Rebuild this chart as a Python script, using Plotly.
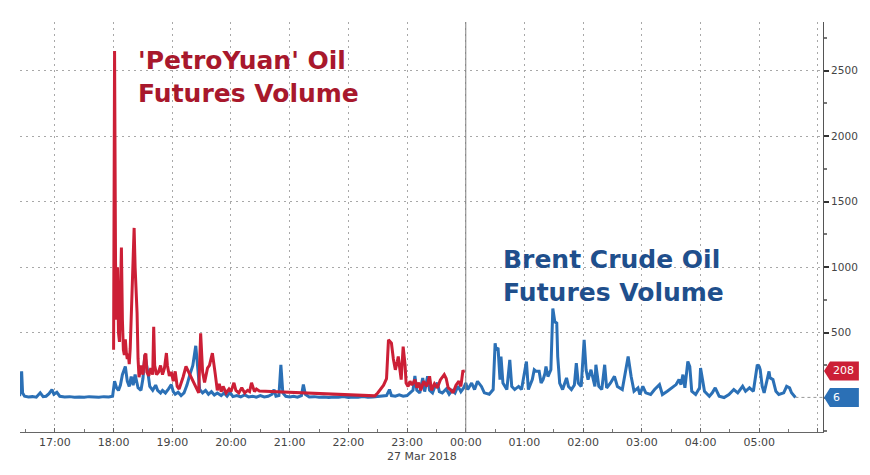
import plotly.graph_objects as go

# ---------------- data ----------------
red_t = ["18:00","18:01","18:02","18:03","18:04","18:05","18:06","18:07","18:08","18:09",
         "18:10","18:11","18:12","18:13","18:14","18:15","18:16","18:17","18:18","18:19",
         "18:20","18:21","18:22","18:23","18:24","18:25","18:26","18:28","18:30","18:32",
         "18:33","18:34","18:36","18:38","18:40","18:41","18:42","18:44","18:46","18:48",
         "18:50","18:52","18:54","18:55","18:57","18:59","19:01","19:03","19:05","19:07",
         "19:09","19:11","19:14","19:27","19:29","19:31","19:33","19:36","19:38","19:41",
         "19:44","19:46","19:48","19:50","19:52","19:55","19:58","20:00","20:03","20:05",
         "20:08","20:11","20:14","20:17","20:19","20:21","20:24","20:26","20:29","22:27",
         "22:30","22:33","22:36","22:39","22:41","22:43","22:44","22:46","22:48","22:50",
         "22:51","22:53","22:54","22:56","22:58","22:59","23:01","23:03","23:05","23:08",
         "23:10","23:12","23:14","23:17","23:20","23:23","23:25","23:28","23:31","23:34",
         "23:38","23:40","23:42","23:45","23:47","23:50","23:53","23:55","23:57","23:59"]
red_v = [370, 2650, 1030, 600, 1000, 500, 430, 700, 1150, 600,
         370, 330, 450, 350, 300, 340, 260, 380, 600, 900,
         1050, 1300, 1000, 850, 650, 300, 160, 250, 180, 330,
         340, 200, 170, 230, 180, 545, 250, 180, 200, 250,
         180, 230, 345, 250, 170, 200, 130, 205, 90, 70,
         110, 160, 242, 41, 495, 200, 120, 230, 250, 344,
         180, 60, 110, 50, 90, 40, 70, 50, 118, 60,
         40, 80, 40, 60, 50, 118, 50, 70, 55, 18,
         40, 66, 100, 150, 445, 430, 420, 300, 217, 280,
         318, 200, 142, 394, 250, 116, 90, 130, 100, 142,
         80, 120, 60, 130, 90, 167, 60, 110, 80, 140,
         180, 150, 80, 60, 41, 100, 130, 90, 205, 208]

blue_t = ["16:24","16:26","16:27","16:29","16:33","16:37","16:41","16:45","16:48","16:51",
          "16:54","16:57","16:59","17:02","17:05","17:10","17:15","17:20","17:25","17:30",
          "17:35","17:40","17:45","17:50","17:55","17:59","18:01","18:03","18:05","18:07",
          "18:09","18:12","18:14","18:16","18:18","18:20","18:22","18:25","18:28","18:30",
          "18:32","18:35","18:37","18:40","18:43","18:45","18:48","18:50","18:53","18:56",
          "18:59","19:01","19:03","19:06","19:09","19:12","19:15","19:18","19:21","19:24",
          "19:26","19:28","19:31","19:34","19:37","19:40","19:43","19:46","19:50","19:53",
          "19:56","19:59","20:02","20:06","20:10","20:14","20:18","20:22","20:26","20:30",
          "20:34","20:38","20:42","20:44","20:46","20:49","20:51","20:53","20:56","21:00",
          "21:04","21:08","21:12","21:14","21:16","21:20","21:25","21:30","21:35","21:40",
          "21:45","21:50","21:55","22:00","22:05","22:10","22:15","22:20","22:25","22:30",
          "22:35","22:39","22:42","22:44","22:48","22:52","22:56","23:00","23:03","23:06",
          "23:08","23:10","23:13","23:16","23:18","23:21","23:23","23:26","23:28","23:31",
          "23:33","23:36","23:40","23:43","23:46","23:49","23:52","23:55","23:58",
          "00:00","00:02","00:06","00:09","00:12","00:16","00:19","00:24","00:28","00:30",
          "00:31","00:33","00:35","00:36","00:38","00:42","00:45","00:47","00:50","00:54",
          "00:57","01:02","01:04","01:08","01:10","01:12","01:15","01:17","01:19","01:21",
          "01:22","01:24","01:27","01:29","01:31","01:33","01:34","01:36","01:39","01:43",
          "01:45","01:48","01:51","01:53","01:55","01:58","02:01","02:03","02:05","02:08",
          "02:12","02:13","02:16","02:19","02:22","02:24","02:28","02:32","02:35","02:40",
          "02:44","02:46","02:49","02:52","02:56","02:58","03:01","03:04","03:09","03:13",
          "03:18","03:21","03:26","03:31","03:35","03:38","03:40","03:42","03:44","03:47",
          "03:49","03:51","03:55","03:59","04:00","04:02","04:04","04:09","04:12","04:15",
          "04:19","04:24","04:29","04:34","04:38","04:43","04:46","04:50","04:54","04:58",
          "05:00","05:01","05:03","05:05","05:10","05:11","05:14","05:17","05:20","05:25",
          "05:28","05:31","05:33","05:37"]
blue_v = [15, 205, 40, 15, 10, 12, 8, 41, 12, 15,
          35, 66, 30, 45, 15, 10, 12, 8, 10, 8,
          12, 10, 8, 12, 10, 15, 130, 80, 60, 100,
          180, 242, 130, 90, 165, 100, 180, 80, 60, 150,
          330, 200, 90, 60, 100, 60, 40, 60, 40, 70,
          104, 50, 30, 45, 20, 40, 100, 180, 250, 400,
          200, 66, 40, 60, 30, 50, 25, 40, 20, 40,
          15, 45, 12, 20, 10, 25, 10, 15, 8, 20,
          10, 15, 30, 66, 15, 20, 255, 40, 15, 10,
          15, 8, 20, 104, 30, 10, 12, 8, 10, 6,
          10, 8, 12, 6, 10, 8, 12, 8, 10, 12,
          15, 20, 66, 20, 15, 25, 15, 20, 40, 60,
          170, 60, 40, 154, 50, 167, 60, 40, 80, 118,
          50, 40, 70, 30, 60, 40, 92, 50, 80,
          116, 66, 116, 66, 129, 90, 41, 30, 66, 420,
          369, 384, 142, 318, 116, 66, 293, 90, 66, 90,
          66, 280, 66, 142, 217, 205, 205, 116, 142, 190,
          242, 165, 217, 685, 583, 573, 318, 116, 66, 155,
          90, 66, 100, 268, 116, 90, 445, 217, 142, 217,
          90, 255, 90, 66, 255, 78, 116, 167, 90, 66,
          217, 318, 167, 53, 79, 28, 91, 41, 28, 66,
          104, 28, 53, 79, 104, 142, 104, 180, 79, 280,
          242, 53, 28, 79, 230, 142, 53, 15, 41, 79,
          15, 5, 28, 66, 41, 91, 53, 79, 53, 255,
          242, 217, 91, 41, 205, 155, 142, 53, 28, 41,
          91, 79, 41, 6]

hour_ticks = ["17:00","18:00","19:00","20:00","21:00","22:00","23:00",
              "00:00","01:00","02:00","03:00","04:00","05:00","06:00"]
hour_labels = ["17:00","18:00","19:00","20:00","21:00","22:00","23:00",
               "00:00","01:00","02:00","03:00","04:00","05:00",""]

red_name = "'PetroYuan' Oil<br>Futures Volume"
blue_name = "Brent Crude Oil<br>Futures Volume"
date_label = "27 Mar 2018"
red_last, blue_last = 208, 6


def to_dt(hm, sec="00"):
    h = int(hm[:2])
    day = "2018-03-26" if h >= 12 else "2018-03-27"
    return f"{day} {hm}:{sec}"


RED = "#cc1f36"
BLUE = "#2b70b6"
RED_TXT = "#a8182c"
BLUE_TXT = "#1f4f8c"
Y_RANGE = [-258, 2872]
X_RANGE = [to_dt("16:24", "20"), to_dt("06:05", "10")]
GRID_DASH = "2px,4px"

fig = go.Figure()
fig.add_trace(go.Scatter(x=[to_dt(t) for t in blue_t], y=blue_v, mode="lines",
                         line=dict(color=BLUE, width=3), name="Brent", showlegend=False))
fig.add_trace(go.Scatter(x=[to_dt(t) for t in red_t], y=red_v, mode="lines",
                         line=dict(color=RED, width=3), name="PetroYuan", showlegend=False))


def ypaper(v):
    return (v - Y_RANGE[0]) / (Y_RANGE[1] - Y_RANGE[0])


PW = 806.0   # plot width in px
PH = 410.0   # plot height in px
shapes = []
# solid vertical line at midnight
shapes.append(dict(type="line", xref="x", yref="paper", x0=to_dt("00:00"), x1=to_dt("00:00"),
                   y0=0, y1=1, line=dict(color="#808080", width=1)))
# dotted last-value guide for blue
shapes.append(dict(type="line", xref="x", yref="y", x0=to_dt(blue_t[-1]), x1=X_RANGE[1],
                   y0=blue_last, y1=blue_last, line=dict(color="#999999", width=1, dash="dot")))

annotations = []
for val, col in [(red_last, RED), (blue_last, BLUE)]:
    yc = ypaper(val)
    hh = 9.5 / PH
    x_tip = 1 + 1 / PW
    x_n = 1 + 7 / PW
    x_r = 1 + 36 / PW
    path = (f"M {x_tip},{yc} L {x_n},{yc + hh} L {x_r},{yc + hh} "
            f"L {x_r},{yc - hh} L {x_n},{yc - hh} Z")
    shapes.append(dict(type="path", xref="paper", yref="paper", path=path,
                       fillcolor=col, line=dict(width=0)))
    annotations.append(dict(xref="paper", yref="paper", x=1 + 8 / PW, y=yc,
                            xanchor="left", yanchor="middle", showarrow=False,
                            text=str(val), font=dict(color="white", size=11,
                                                     family="DejaVu Sans")))

annotations.append(dict(xref="paper", yref="paper", x=(136 - 20) / PW, y=(432 - 44) / PH,
                        xanchor="left", yanchor="top", align="left", showarrow=False,
                        text=f"<b>{red_name}</b>",
                        font=dict(color=RED_TXT, size=25, family="DejaVu Sans")))
annotations.append(dict(xref="paper", yref="paper", x=(503 - 20) / PW, y=(432 - 243) / PH,
                        xanchor="left", yanchor="top", align="left", showarrow=False,
                        text=f"<b>{blue_name}</b>",
                        font=dict(color=BLUE_TXT, size=25, family="DejaVu Sans")))
annotations.append(dict(xref="paper", yref="paper", x=(424 - 20) / PW, y=-(456 - 432) / PH,
                        xanchor="center", yanchor="middle", showarrow=False,
                        text=date_label,
                        font=dict(color="#444444", size=11, family="DejaVu Sans")))

fig.update_layout(
    width=870, height=475,
    margin=dict(l=20, r=44, t=22, b=43),
    paper_bgcolor="white", plot_bgcolor="white",
    font=dict(family="DejaVu Sans", size=11, color="#444444"),
    shapes=shapes, annotations=annotations,
    showlegend=False,
)
fig.update_xaxes(
    type="date", range=X_RANGE,
    tickmode="array", tickvals=[to_dt(t) for t in hour_ticks], ticktext=hour_labels,
    showgrid=True, gridcolor="#a8a8a8", griddash=GRID_DASH, gridwidth=1,
    showline=True, linecolor="#666666", linewidth=1,
    ticks="inside", ticklen=4, tickcolor="#666666",
    minor=dict(dtick=1800000, tick0=to_dt("17:00"), ticks="inside", ticklen=3,
               tickcolor="#777777", showgrid=False),
    tickfont=dict(size=11, color="#444444"),
    zeroline=False,
)
fig.update_yaxes(
    side="right", range=Y_RANGE,
    tickvals=[500, 1000, 1500, 2000, 2500],
    showgrid=True, gridcolor="#a8a8a8", griddash=GRID_DASH, gridwidth=1,
    showline=True, linecolor="#555555", linewidth=1,
    ticks="outside", ticklen=5, tickwidth=2, tickcolor="#333333",
    minor=dict(dtick=250, tick0=0, ticks="outside", ticklen=3, tickcolor="#777777",
               showgrid=False),
    tickfont=dict(size=10.5, color="#444444"),
    zeroline=False,
)

fig.write_html("out.html")
